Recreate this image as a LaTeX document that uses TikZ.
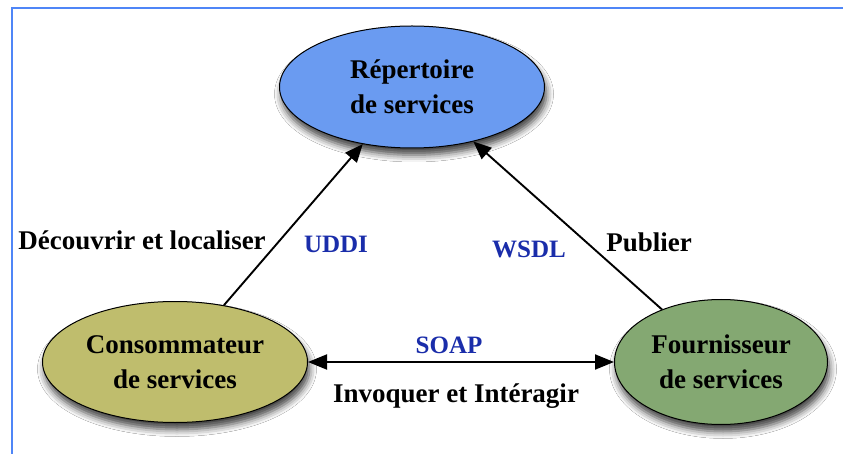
\documentclass[tikz,border=0pt]{standalone}
\usepackage{fontspec}
\setmainfont{Liberation Serif}
\usetikzlibrary{shapes.geometric,arrows.meta,shadows.blur}
\definecolor{repblue}{HTML}{6A9BF1}
\definecolor{consolive}{HTML}{BFBD6D}
\definecolor{fourgreen}{HTML}{84A872}
\definecolor{labblue}{HTML}{1A2DAA}
\definecolor{framblue}{HTML}{4F86F7}
\begin{document}
\begin{tikzpicture}[x=1pt,y=-1pt,
  actor/.style={ellipse,draw=black,line width=1pt,inner sep=0pt,align=center,
    font=\fontsize{27}{34.5}\selectfont\bfseries,
    blur shadow={shadow xshift=2pt,shadow yshift=-7pt,shadow blur radius=7pt,shadow opacity=75}},
  lab/.style={font=\fontsize{27}{32}\selectfont\bfseries,anchor=base,inner sep=0pt},
  proto/.style={font=\fontsize{25}{30}\selectfont\bfseries,text=labblue,anchor=base,inner sep=0pt},
  conn/.style={line width=1.9pt,-{Triangle[length=18pt,width=15pt]}},
  conn2/.style={line width=1.9pt,{Triangle[length=19pt,width=15pt]}-{Triangle[length=19pt,width=15pt]}}]
\useasboundingbox (0,0) rectangle (843,454);
\fill[white] (0,0) rectangle (843,454);
\draw[framblue,line width=1.8pt] (12,454) -- (12,8) -- (843,8);
\node[actor,fill=repblue,minimum width=265pt,minimum height=122pt] (rep) at (412,87) {Répertoire\\de services};
\node[actor,fill=consolive,minimum width=265pt,minimum height=121pt] (cons) at (175,362) {Consommateur\\de services};
\node[actor,fill=fourgreen,minimum width=213pt,minimum height=125pt] (four) at (721,362) {Fournisseur\\de services};
\draw[conn] (cons) -- (rep);
\draw[conn] (four) -- (rep);
\draw[conn2] (cons) -- (four);
\node[lab] (dec) at (142,250) {Découvrir et localiser};
\node[proto] (uddi) at (336,253) {UDDI};
\node[proto] (wsdl) at (529,258) {WSDL};
\node[lab] (pub) at (649,252) {Publier};
\node[proto] (soap) at (449,353) {SOAP};
\node[lab] (inv) at (456,402) {Invoquer et Intéragir};
\end{tikzpicture}
\end{document}
